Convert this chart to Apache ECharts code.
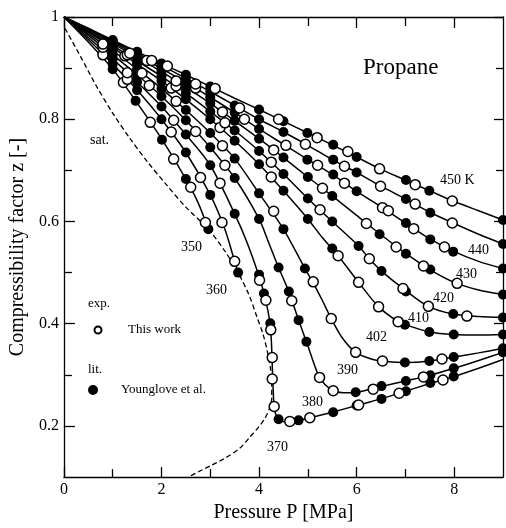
<!DOCTYPE html>
<html>
<head>
<meta charset="utf-8">
<script src="https://cdn.jsdelivr.net/npm/echarts@6/dist/echarts.min.js"></script>
<style>
html,body{margin:0;padding:0;background:#fff}
#main{width:506px;height:528px}
</style>
</head>
<body>
<div id="main"></div>
<script>
// pressure P [MPa], compressibility factor z
var line350 = [[0,1],[0.5,0.951],[1,0.898],[1.5,0.832],[2,0.762],[2.5,0.683],[2.75,0.637],[2.96,0.585]];
var open350 = [[1.22,0.872],[1.77,0.794],[2.25,0.722],[2.6,0.667],[2.9,0.598]];
var filled350 = [[1,0.898],[1.47,0.836],[2.01,0.76],[2.5,0.683],[2.96,0.585]];

var line360 = [[0,1],[0.5,0.956],[1,0.908],[1.5,0.857],[2,0.8],[2.5,0.735],[3,0.652],[3.3,0.585],[3.5,0.522],[3.57,0.5]];
var open360 = [[0.8,0.926],[1.3,0.878],[2.2,0.775],[2.8,0.686],[3.24,0.598],[3.5,0.522]];
var filled360 = [[1,0.908],[1.5,0.857],[2,0.8],[2.5,0.735],[3,0.652],[3.57,0.5]];

var line370 = [[0,1],[0.5,0.96],[1,0.918],[1.5,0.873],[2,0.825],[2.5,0.77],[3,0.71],[3.5,0.615],[3.75,0.56],[4,0.493],[4.12,0.452],[4.21,0.41],[4.25,0.37],[4.27,0.32],[4.29,0.27],[4.31,0.238],[4.37,0.216],[4.47,0.209],[4.63,0.208],[4.81,0.211],[5.04,0.216],[5.5,0.227],[6,0.24],[6.5,0.253],[7,0.268],[7.5,0.283],[8,0.297],[8.5,0.313],[9,0.33]];
var open370 = [[1.3,0.891],[2.25,0.798],[3.2,0.675],[4.01,0.485],[4.14,0.446],[4.24,0.388],[4.27,0.334],[4.27,0.292],[4.31,0.238],[4.63,0.209],[5.04,0.216],[6.04,0.241],[6.87,0.264],[7.77,0.29]];
var filled370 = [[1,0.918],[1.5,0.873],[2,0.825],[2.5,0.77],[3,0.71],[3.5,0.615],[4,0.496],[4.1,0.459],[4.23,0.401],[4.4,0.213],[4.81,0.211],[5.52,0.227],[6,0.24],[6.51,0.253],[7.01,0.268],[7.51,0.284],[7.99,0.297]];

var line380 = [[0,1],[0.5,0.964],[1,0.926],[1.5,0.887],[2,0.845],[2.5,0.798],[3,0.745],[3.5,0.685],[4,0.605],[4.2,0.558],[4.4,0.51],[4.6,0.465],[4.8,0.41],[5,0.357],[5.2,0.303],[5.35,0.281],[5.55,0.268],[5.8,0.265],[6,0.266],[6.5,0.277],[7,0.288],[7.5,0.299],[8,0.313],[8.5,0.328],[9,0.344]];
var open380 = [[0.8,0.941],[1.75,0.866],[2.7,0.776],[3.3,0.71],[4.67,0.445],[5.24,0.295],[5.52,0.269],[6.34,0.272],[7.37,0.296]];
var filled380 = [[1,0.926],[1.5,0.887],[2,0.845],[2.5,0.798],[3,0.745],[3.5,0.685],[4,0.605],[4.4,0.51],[4.61,0.463],[4.81,0.407],[4.97,0.365],[5.98,0.266],[6.51,0.278],[7.01,0.288],[7.51,0.299],[7.99,0.313],[9,0.344]];

var line390 = [[0,1],[0.5,0.967],[1,0.934],[1.5,0.898],[2,0.86],[2.5,0.818],[3,0.773],[3.5,0.723],[4,0.655],[4.5,0.585],[4.94,0.508],[5.11,0.48],[5.3,0.445],[5.48,0.41],[5.7,0.373],[5.98,0.344],[6.3,0.331],[6.6,0.326],[7,0.324],[7.5,0.327],[8,0.335],[8.5,0.343],[9,0.352]];
var open390 = [[0.8,0.947],[1.6,0.89],[2.3,0.835],[3.25,0.748],[4.3,0.62],[5.11,0.482],[5.48,0.41],[5.98,0.344],[6.53,0.327],[7.75,0.331]];
var filled390 = [[1,0.934],[1.5,0.898],[2,0.86],[2.5,0.818],[3,0.773],[3.5,0.723],[4,0.655],[4.5,0.585],[4.94,0.508],[6.99,0.324],[7.49,0.327],[7.99,0.335],[9,0.352]];

var line402 = [[0,1],[0.5,0.97],[1,0.94],[1.5,0.908],[2,0.875],[2.5,0.839],[3,0.8],[3.5,0.758],[4,0.712],[4.5,0.66],[5,0.605],[5.3,0.568],[5.62,0.533],[6.04,0.481],[6.45,0.433],[6.85,0.404],[7,0.398],[7.5,0.384],[8,0.379],[8.5,0.378],[9,0.379]];
var open402 = [[1.25,0.924],[2.2,0.861],[3.2,0.784],[4.25,0.687],[5.62,0.533],[6.04,0.481],[6.45,0.433],[6.85,0.404]];
var filled402 = [[1,0.94],[1.5,0.908],[2,0.875],[2.5,0.839],[3,0.8],[3.5,0.758],[4,0.712],[4.5,0.66],[5,0.605],[5.5,0.547],[6.99,0.398],[7.49,0.384],[7.99,0.379],[9,0.379]];

var line410 = [[0,1],[0.5,0.972],[1,0.944],[1.5,0.914],[2,0.884],[2.5,0.851],[3,0.815],[3.5,0.778],[4,0.738],[4.5,0.693],[5,0.645],[5.5,0.6],[6.04,0.552],[6.26,0.527],[6.51,0.503],[6.95,0.469],[7.47,0.434],[7.98,0.419],[8.5,0.414],[9,0.412]];
var open410 = [[1.3,0.926],[2.3,0.865],[3.3,0.793],[4.25,0.716],[5.25,0.623],[6.26,0.527],[6.95,0.469],[7.47,0.434],[8.26,0.415]];
var filled410 = [[1,0.944],[1.5,0.914],[2,0.884],[2.5,0.851],[3,0.815],[3.5,0.778],[4,0.738],[4.5,0.693],[5,0.645],[5.5,0.6],[6.04,0.552],[6.51,0.503],[7.01,0.463],[7.98,0.419],[9,0.412]];

var line420 = [[0,1],[0.5,0.974],[1,0.948],[1.5,0.921],[2,0.893],[2.5,0.863],[3,0.831],[3.5,0.797],[4,0.762],[4.5,0.725],[5,0.687],[5.5,0.65],[6,0.612],[6.5,0.574],[7,0.538],[7.5,0.506],[8,0.481],[8.5,0.466],[9,0.457]];
var open420 = [[1.35,0.929],[2.3,0.875],[3.25,0.814],[4.3,0.74],[5.3,0.665],[6.2,0.596],[6.81,0.55],[7.37,0.513],[8.06,0.479]];
var filled420 = [[1,0.948],[1.5,0.921],[2,0.893],[2.5,0.863],[3,0.831],[3.5,0.797],[4,0.762],[4.5,0.725],[5,0.687],[5.5,0.65],[6.47,0.575],[7.01,0.537],[7.51,0.506],[9,0.457]];

var line430 = [[0,1],[0.5,0.976],[1,0.951],[1.5,0.925],[2,0.899],[2.5,0.872],[3,0.843],[3.5,0.813],[4,0.781],[4.5,0.751],[5,0.721],[5.5,0.692],[6,0.659],[6.5,0.629],[7,0.597],[7.5,0.566],[8,0.541],[8.5,0.522],[9,0.508]];
var open430 = [[1.7,0.915],[2.7,0.861],[3.7,0.8],[4.55,0.749],[5.2,0.71],[5.75,0.675],[6.53,0.627],[6.65,0.621],[7.17,0.586],[7.8,0.55]];
var filled430 = [[1,0.951],[1.5,0.925],[2,0.899],[2.5,0.872],[3,0.843],[3.5,0.813],[4,0.781],[4.99,0.721],[5.52,0.692],[6,0.659],[7.01,0.597],[7.51,0.565],[7.98,0.541],[9,0.508]];

var line440 = [[0,1],[0.5,0.977],[1,0.953],[1.5,0.929],[2,0.905],[2.5,0.88],[3,0.854],[3.5,0.827],[4,0.8],[4.5,0.775],[5,0.749],[5.5,0.721],[6,0.696],[6.5,0.669],[7,0.644],[7.5,0.618],[8,0.596],[8.5,0.575],[9,0.556]];
var open440 = [[1.8,0.915],[2.7,0.869],[3.6,0.822],[4.95,0.751],[5.75,0.708],[6.49,0.669],[7.2,0.634],[7.96,0.597]];
var filled440 = [[1,0.953],[1.5,0.929],[2,0.905],[2.5,0.88],[3,0.854],[3.5,0.827],[4,0.8],[4.5,0.775],[5.52,0.721],[6,0.696],[7.01,0.644],[7.51,0.617],[9,0.556]];

var line450 = [[0,1],[0.5,0.978],[1,0.955],[1.5,0.932],[2,0.909],[2.5,0.887],[3,0.864],[3.5,0.841],[4,0.819],[4.5,0.796],[5,0.773],[5.5,0.75],[6,0.726],[6.5,0.702],[7,0.681],[7.5,0.66],[8,0.639],[8.5,0.621],[9,0.603]];
var open450 = [[2.12,0.904],[3.1,0.86],[4.4,0.8],[5.19,0.764],[5.82,0.737],[6.47,0.703],[7.2,0.672],[7.96,0.64]];
var filled450 = [[1,0.955],[1.5,0.932],[2,0.909],[2.5,0.887],[3,0.864],[4,0.819],[4.5,0.796],[4.99,0.773],[5.52,0.75],[6,0.726],[7.01,0.681],[7.49,0.66],[9,0.603]];

// saturation curve (vapour branch, then liquid branch)
var satLine = [[0.02,0.978],[0.34,0.923],[0.66,0.866],[1,0.812],[1.35,0.763],[1.71,0.717],[2.1,0.672],[2.5,0.628],[2.96,0.585],[3.3,0.542],[3.57,0.5],[3.8,0.455],[3.95,0.415],[4.08,0.38],[4.17,0.346],[4.23,0.315],[4.26,0.285],[4.26,0.255],[4.22,0.236],[4.12,0.215],[4,0.199],[3.8,0.177],[3.6,0.156],[3.3,0.137],[3,0.122],[2.75,0.11],[2.55,0.1]];

var xMajor = [0, 2, 4, 6, 8];
var xMinor = [1, 3, 5, 7];
var yMajor = [0.2, 0.4, 0.6, 0.8, 1];
var yMinor = [0.3, 0.5, 0.7, 0.9];

var isotherms = [
  {line: line350, open: open350, filled: filled350},
  {line: line360, open: open360, filled: filled360},
  {line: line370, open: open370, filled: filled370},
  {line: line380, open: open380, filled: filled380},
  {line: line390, open: open390, filled: filled390},
  {line: line402, open: open402, filled: filled402},
  {line: line410, open: open410, filled: filled410},
  {line: line420, open: open420, filled: filled420},
  {line: line430, open: open430, filled: filled430},
  {line: line440, open: open440, filled: filled440},
  {line: line450, open: open450, filled: filled450}
];

var FONT = '"Liberation Serif", "Times New Roman", serif';

var series = [];
series.push({
  type: 'line', data: satLine, smooth: 0.3, symbol: 'none',
  lineStyle: {color: '#000', width: 1.3, type: [5, 3]}, z: 2
});
isotherms.forEach(function (t) {
  series.push({
    type: 'line', data: t.line, smooth: 0.3, symbol: 'none',
    lineStyle: {color: '#000', width: 1.5}, z: 2
  });
  series.push({
    type: 'scatter', data: t.filled, symbol: 'circle', symbolSize: 10,
    itemStyle: {color: '#000', opacity: 1}, z: 3
  });
  series.push({
    type: 'scatter', data: t.open, symbol: 'circle', symbolSize: 10,
    itemStyle: {color: '#fff', borderColor: '#000', borderWidth: 1.5, opacity: 1}, z: 4
  });
});

function xAx(pos, ticks, len, main) {
  return {
    type: 'value', min: 0, max: 9, position: pos,
    axisLine: {show: !!main, onZero: false, lineStyle: {color: '#000', width: 1.3}},
    axisTick: {inside: true, length: len, customValues: ticks, lineStyle: {color: '#000', width: 1.3}},
    axisLabel: main && pos === 'bottom'
      ? {customValues: xMajor, margin: 5, fontSize: 16, fontFamily: FONT, color: '#000'}
      : {show: false},
    splitLine: {show: false},
    name: main && pos === 'bottom' ? 'Pressure P [MPa]' : '',
    nameLocation: 'middle', nameGap: 20,
    nameTextStyle: {fontSize: 20, fontFamily: FONT, color: '#000'}
  };
}
function yAx(pos, ticks, len, main) {
  return {
    type: 'value', min: 0.1, max: 1, position: pos,
    axisLine: {show: !!main, onZero: false, lineStyle: {color: '#000', width: 1.3}},
    axisTick: {inside: true, length: len, customValues: ticks, lineStyle: {color: '#000', width: 1.3}},
    axisLabel: main && pos === 'left'
      ? {customValues: yMajor, margin: 5, fontSize: 16, fontFamily: FONT, color: '#000',
         formatter: function (v) { return v === 1 ? '1' : String(v); }}
      : {show: false},
    splitLine: {show: false},
    name: main && pos === 'left' ? 'Compressibility factor z [-]' : '',
    nameLocation: 'middle', nameGap: 27, nameRotate: 90,
    nameTextStyle: {fontSize: 20, fontFamily: FONT, color: '#000'}
  };
}

function txt(s, x, y, size) {
  return {type: 'text', x: x, y: y, z: 10,
    style: {text: s, font: size + 'px ' + FONT, fill: '#000', verticalAlign: 'middle'}};
}

var chart = echarts.init(document.getElementById('main'));
chart.setOption({
  animation: false,
  backgroundColor: '#fff',
  grid: {left: 58, top: 17, right: 3, bottom: 43, containLabel: false},
  xAxis: [
    xAx('bottom', xMajor, 10, true),
    xAx('bottom', xMinor, 8, false),
    xAx('top', xMajor, 11, true),
    xAx('top', xMinor, 9, false)
  ],
  yAxis: [
    yAx('left', yMajor, 11, true),
    yAx('left', yMinor, 8, false),
    yAx('right', yMajor, 9, true),
    yAx('right', yMinor, 7, false)
  ],
  series: series,
  graphic: [
    txt('Propane', 363, 68, 23),
    txt('sat.', 90, 140, 14),
    txt('450 K', 440, 180, 14),
    txt('440', 468, 250, 14),
    txt('430', 456, 274, 14),
    txt('420', 433, 298, 14),
    txt('410', 408, 318, 14),
    txt('402', 366, 337, 14),
    txt('390', 337, 370, 14),
    txt('380', 302, 402, 14),
    txt('370', 267, 447, 14),
    txt('360', 206, 290, 14),
    txt('350', 181, 247, 14),
    txt('exp.', 88, 304, 13),
    txt('This work', 128, 330, 13),
    txt('lit.', 88, 370, 13),
    txt('Younglove et al.', 121, 390, 13),
    {type: 'circle', shape: {cx: 98, cy: 330, r: 3.5}, z: 10,
      style: {fill: '#fff', stroke: '#000', lineWidth: 2}},
    {type: 'circle', shape: {cx: 93, cy: 390, r: 5}, z: 10,
      style: {fill: '#000'}}
  ]
});
</script>
</body>
</html>
